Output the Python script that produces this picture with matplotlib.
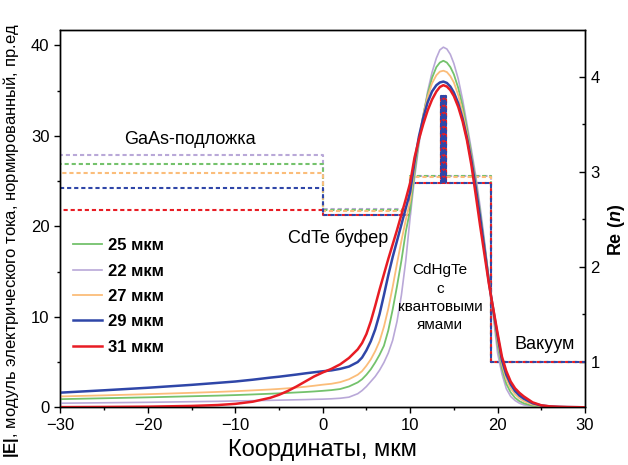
import matplotlib
matplotlib.use('Agg')
import matplotlib.pyplot as plt
from matplotlib.ticker import MultipleLocator

plt.rcParams['font.family'] = ['Liberation Sans', 'DejaVu Sans']
plt.rcParams['mathtext.fontset'] = 'custom'
plt.rcParams['mathtext.rm'] = 'Liberation Sans'
plt.rcParams['mathtext.bf'] = 'Liberation Sans:bold'
plt.rcParams['mathtext.it'] = 'Liberation Sans:italic:bold'

# ---------------- data ----------------
x = [-30, -25, -20, -15, -12, -10, -8, -6, -5, -4, -3, -2, -1,
     0, 1, 2, 3, 4, 4.5, 5, 5.5, 6, 6.5, 7, 7.5, 8, 8.5, 9, 9.5, 10,
     10.5, 11, 11.5, 12, 12.5, 13, 13.4, 13.8, 14.2, 14.6, 15, 15.5, 16, 16.5, 17, 17.5, 18, 18.5, 19, 19.25,
     20, 20.5, 21, 21.5, 22, 22.5, 23, 24, 25, 26, 27, 28, 30]

e_22 = [0.45, 0.5, 0.55, 0.62, 0.66, 0.7, 0.73, 0.77, 0.79, 0.81, 0.83, 0.85, 0.88,
        0.9, 0.94, 1.0, 1.12, 1.5, 1.85, 2.3, 2.85, 3.4, 4.1, 4.95, 6.0, 7.4, 9.5, 12.4, 16.2, 21.0,
        25.3, 29.0, 32.2, 34.9, 37.0, 38.6, 39.5, 39.8, 39.6, 39.0, 38.0, 36.3, 34.0, 31.3, 28.5, 25.6, 22.2, 18.4, 14.3, 12.3,
        6.0, 3.7, 2.05, 1.2, 0.75, 0.45, 0.27, 0.1, 0.04, 0.015, 0.005, 0.0, 0.0]
e_25 = [0.9, 1.0, 1.1, 1.22, 1.29, 1.35, 1.42, 1.5, 1.54, 1.59, 1.64, 1.69, 1.75,
        1.82, 1.9, 2.02, 2.3, 2.75, 3.1, 3.6, 4.2, 4.95, 5.8, 6.8, 8.5, 10.8, 13.4, 16.2, 19.4, 21.8,
        25.9, 29.4, 32.3, 34.6, 36.4, 37.6, 38.1, 38.3, 38.1, 37.6, 36.8, 35.3, 33.3, 30.8, 28.0, 25.0, 21.6, 18.0, 14.2, 12.3,
        6.9, 4.3, 2.6, 1.65, 1.05, 0.68, 0.44, 0.17, 0.07, 0.03, 0.01, 0.0, 0.0]
e_27 = [1.2, 1.32, 1.45, 1.6, 1.7, 1.78, 1.87, 1.97, 2.03, 2.1, 2.18, 2.27, 2.38,
        2.5, 2.6, 2.78, 3.1, 3.6, 4.0, 4.6, 5.3, 6.2, 7.3, 8.9, 10.9, 13.3, 15.9, 18.4, 20.7, 22.8,
        26.6, 29.8, 32.3, 34.3, 35.8, 36.7, 37.1, 37.2, 37.05, 36.6, 35.9, 34.5, 32.6, 30.3, 27.6, 24.6, 21.2, 17.7, 14.0, 12.3,
        7.4, 4.8, 3.1, 2.1, 1.45, 1.0, 0.68, 0.3, 0.13, 0.06, 0.02, 0.01, 0.0]
e_29 = [1.62, 1.88, 2.16, 2.48, 2.7, 2.85, 3.05, 3.28, 3.38, 3.5, 3.62, 3.75, 3.87,
        3.98, 4.08, 4.25, 4.5, 5.0, 5.5, 6.3, 7.3, 8.6, 10.3, 12.4, 14.6, 16.6, 18.4, 20.2, 22.0, 23.8,
        27.1, 29.9, 32.0, 33.7, 34.9, 35.6, 35.9, 36.0, 35.85, 35.45, 34.8, 33.6, 31.9, 29.8, 27.3, 24.3, 21.0, 17.5, 13.9, 12.3,
        7.9, 5.2, 3.6, 2.55, 1.8, 1.3, 0.95, 0.45, 0.2, 0.09, 0.04, 0.02, 0.0]
e_31 = [0.02, 0.04, 0.07, 0.15, 0.25, 0.38, 0.62, 1.05, 1.38, 1.8, 2.3, 2.85, 3.4,
        3.85, 4.25, 4.75, 5.45, 6.4, 7.1, 8.1, 9.5, 11.2, 13.0, 14.7, 16.4, 18.0, 19.6, 21.3, 23.0, 24.8,
        27.6, 29.6, 31.3, 32.8, 34.0, 34.9, 35.4, 35.6, 35.45, 35.05, 34.4, 33.2, 31.6, 29.5, 26.8, 23.5, 20.1, 16.9, 13.7, 12.3,
        8.2, 5.6, 4.0, 2.85, 2.1, 1.6, 1.2, 0.55, 0.22, 0.1, 0.06, 0.03, 0.0]

series_labels = ['22 мкм', '25 мкм', '27 мкм', '29 мкм', '31 мкм']
series_e = [e_22, e_25, e_27, e_29, e_31]
series_colors = ['#b9a8d8', '#74c26c', '#fbbd7a', '#2f46a8', '#e81c24']
series_lw = [1.2, 1.3, 1.3, 1.8, 1.8]
legend_order = [1, 0, 2, 3, 4]

# refractive index profile (right axis)
layer_bounds = [-30, 0, 10, 19.25, 30]
n_gaas = [3.17, 3.08, 2.98, 2.83, 2.60]
n_cdte = [2.61, 2.60, 2.59, 2.545, 2.54]
n_cdhgte = [2.955, 2.95, 2.94, 2.885, 2.88]
n_qw = 3.8
n_vacuum = 1.0
qw_wells = [(13.52, 13.62), (13.75, 13.85), (13.98, 14.08)]
dash_offsets = [0.6, 1.2, 2.3, 0.0, 1.7]
profile_order = [0, 1, 2, 4, 3]

# ---------------- figure ----------------
fig = plt.figure(figsize=(6.28, 4.65), dpi=100)
ax = fig.add_axes([0.0963, 0.1241, 0.8352, 0.8114])
ax2 = ax.twinx()

def profile(ng, nc, nh):
    b = layer_bounds
    xs = [b[0], b[1], b[1], b[2], b[2]]
    ys = [ng, ng, nc, nc, nh]
    for a, c in qw_wells:
        xs += [a, a, c, c]
        ys += [nh, n_qw, n_qw, nh]
    xs += [b[3], b[3], b[4]]
    ys += [nh, n_vacuum, n_vacuum]
    return xs, ys

for i in profile_order:
    px, py = profile(n_gaas[i], n_cdte[i], n_cdhgte[i])
    ax2.plot(px, py, color=series_colors[i], lw=1.5,
             linestyle=(dash_offsets[i], (2.0, 1.4)))

handles = []
for i in range(5):
    h, = ax.plot(x, series_e[i], color=series_colors[i], lw=series_lw[i],
                 label=series_labels[i])
    handles.append(h)

ax.set_zorder(ax2.get_zorder() + 1)
ax.patch.set_visible(False)

ax.set_xlim(-30, 30)
ax.set_ylim(0, 41.7)
ax2.set_ylim(0.52, 4.49)

ax.xaxis.set_major_locator(MultipleLocator(10))
ax.xaxis.set_minor_locator(MultipleLocator(5))
ax.yaxis.set_major_locator(MultipleLocator(10))
ax.yaxis.set_minor_locator(MultipleLocator(5))
ax2.yaxis.set_major_locator(MultipleLocator(1))
ax2.yaxis.set_minor_locator(MultipleLocator(0.5))

ax.tick_params(which='both', direction='out', labelsize=12, top=False, right=False, width=1.0)
ax.tick_params(which='major', length=4.5)
ax.tick_params(which='minor', length=2.5)
ax2.tick_params(which='both', direction='in', labelsize=12, width=1.0, pad=4)
ax2.tick_params(which='major', length=4.5)
ax2.tick_params(which='minor', length=2.5)

for a in (ax, ax2):
    for s in a.spines.values():
        s.set_linewidth(1.0)

ax.set_xlabel('Координаты, мкм', fontsize=17)
ax.set_ylabel(r'$\mathbf{|E|}$, модуль электрического тока, нормированный, пр.ед', fontsize=12)
ax.yaxis.set_label_coords(-0.075, 0.443)
ax2.set_ylabel(r'Re ($\mathit{n}$)', fontsize=13, fontweight='bold')
ax2.yaxis.set_label_coords(1.04, 0.47)

ax.text(-15.2, 29.6, 'GaAs-подложка', fontsize=13, ha='center', va='center')
ax.text(1.8, 18.7, 'CdTe буфер', fontsize=13, ha='center', va='center')
ax.text(13.45, 12.1, 'CdHgTe\nс\nквантовыми\nямами', fontsize=11, ha='center', va='center',
        linespacing=1.4)
ax.text(25.4, 6.9, 'Вакуум', fontsize=13, ha='center', va='center')

leg = ax.legend([handles[i] for i in legend_order], [series_labels[i] for i in legend_order],
                loc='upper left', bbox_to_anchor=(0.0233, 0.448), frameon=False,
                prop={'weight': 'bold', 'size': 12}, handlelength=1.75, handletextpad=0.35,
                labelspacing=0.62, borderpad=0, borderaxespad=0)

fig.savefig('out.png', dpi=100)
